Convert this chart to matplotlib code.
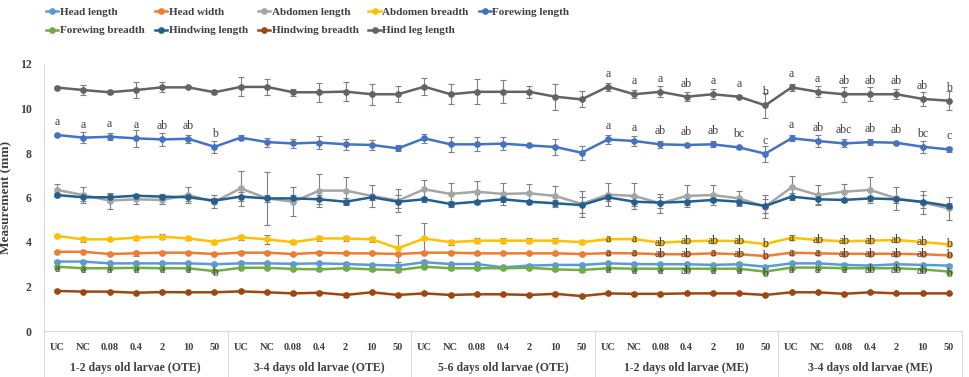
import numpy
import matplotlib
matplotlib.use("Agg")
import matplotlib.pyplot as plt
import matplotlib.transforms as mtransforms

plt.rcParams['font.family'] = ['Liberation Serif', 'DejaVu Serif']

# === data (mm), 5 groups x 7 treatments
treatments = ["UC", "NC", "0.08", "0.4", "2", "10", "50"]
groups = ["1-2 days old larvae (OTE)", "3-4 days old larvae (OTE)", "5-6 days old larvae (OTE)",
          "1-2 days old larvae (ME)", "3-4 days old larvae (ME)"]

head_length = [3.12, 3.12, 3.04, 3.04, 3.04, 3.04, 3.00, 3.04, 3.04, 3.02, 3.04, 3.01, 2.97, 2.94, 3.09, 3.01, 3.01, 2.86,
               2.94, 2.97, 2.97, 3.04, 3.01, 3.00, 3.00, 2.97, 3.00, 2.89, 3.04, 3.04, 2.97, 2.94, 3.00, 2.97, 2.94]
head_width = [3.56, 3.56, 3.46, 3.49, 3.52, 3.52, 3.46, 3.52, 3.52, 3.46, 3.52, 3.49, 3.49, 3.46, 3.52, 3.52, 3.49, 3.49,
              3.49, 3.49, 3.46, 3.50, 3.49, 3.45, 3.45, 3.49, 3.45, 3.37, 3.52, 3.49, 3.47, 3.47, 3.47, 3.45, 3.40]
abdomen_length = [6.34, 6.11, 5.86, 5.92, 5.89, 6.11, 5.81, 6.41, 5.96, 5.81, 6.31, 6.31, 6.07, 5.86, 6.37, 6.16, 6.26, 6.16,
                  6.19, 6.07, 5.71, 6.13, 6.07, 5.74, 6.07, 6.11, 5.96, 5.59, 6.46, 6.11, 6.26, 6.34, 5.96, 5.77, 5.51]
abdomen_breadth = [4.27, 4.12, 4.12, 4.19, 4.24, 4.16, 4.01, 4.21, 4.12, 3.99, 4.16, 4.16, 4.12, 3.72, 4.16, 3.99, 4.06, 4.06,
                   4.06, 4.06, 3.99, 4.13, 4.13, 3.97, 4.03, 4.06, 4.04, 3.91, 4.19, 4.09, 4.03, 4.06, 4.09, 4.00, 3.89]
forewing_length = [8.81, 8.69, 8.73, 8.66, 8.61, 8.64, 8.28, 8.69, 8.49, 8.43, 8.47, 8.39, 8.36, 8.21, 8.66, 8.39, 8.39, 8.42,
                   8.34, 8.27, 8.01, 8.61, 8.54, 8.39, 8.36, 8.39, 8.25, 7.97, 8.66, 8.54, 8.43, 8.49, 8.46, 8.28, 8.16]
forewing_breadth = [2.89, 2.82, 2.82, 2.84, 2.82, 2.82, 2.69, 2.84, 2.84, 2.79, 2.77, 2.82, 2.77, 2.74, 2.89, 2.82, 2.82, 2.82,
                    2.84, 2.77, 2.74, 2.82, 2.80, 2.80, 2.80, 2.80, 2.80, 2.67, 2.85, 2.85, 2.82, 2.82, 2.82, 2.77, 2.67]
hindwing_length = [6.11, 6.01, 6.01, 6.08, 6.04, 6.01, 5.86, 6.04, 5.96, 5.96, 5.92, 5.81, 6.01, 5.81, 5.92, 5.71, 5.81, 5.92,
                   5.81, 5.74, 5.66, 6.01, 5.81, 5.77, 5.81, 5.89, 5.81, 5.62, 6.04, 5.92, 5.89, 5.96, 5.92, 5.81, 5.62]
hindwing_breadth = [1.80, 1.77, 1.77, 1.72, 1.75, 1.74, 1.74, 1.78, 1.74, 1.69, 1.72, 1.62, 1.74, 1.62, 1.69, 1.62, 1.65, 1.65,
                    1.62, 1.67, 1.57, 1.69, 1.67, 1.67, 1.69, 1.69, 1.69, 1.62, 1.74, 1.74, 1.67, 1.74, 1.69, 1.69, 1.69]
hind_leg_length = [10.94, 10.83, 10.73, 10.83, 10.95, 10.95, 10.73, 10.97, 10.97, 10.73, 10.73, 10.76, 10.64, 10.64, 10.98, 10.64, 10.75, 10.75,
                   10.75, 10.53, 10.41, 10.98, 10.64, 10.75, 10.53, 10.64, 10.53, 10.14, 10.95, 10.75, 10.64, 10.64, 10.64, 10.43, 10.35]

# === standard errors
err_head_length = [0.05, 0.06, 0.05, 0.06, 0.05, 0.05, 0.05, 0.1, 0.08, 0.06, 0.05, 0.08, 0.06, 0.08, 0.08, 0.06, 0.08, 0.05,
                   0.06, 0.06, 0.06, 0.05, 0.06, 0.05, 0.05, 0.05, 0.08, 0.06, 0.05, 0.05, 0.08, 0.06, 0.05, 0.06, 0.05]
err_head_width = [0.03, 0.03, 0.06, 0.1, 0.05, 0.05, 0.06, 0.06, 0.08, 0.06, 0.06, 0.05, 0.05, 0.06, 0.06, 0.06, 0.06, 0.05,
                  0.05, 0.06, 0.06, 0.04, 0.04, 0.04, 0.05, 0.04, 0.05, 0.04, 0.04, 0.06, 0.04, 0.04, 0.04, 0.05, 0.04]
err_abdomen_length = [0.27, 0.35, 0.36, 0.2, 0.2, 0.35, 0.3, 0.8, 1.2, 0.66, 0.75, 0.6, 0.5, 0.5, 0.42, 0.5, 0.5, 0.5,
                      0.4, 0.45, 0.6, 0.5, 0.6, 0.42, 0.5, 0.45, 0.35, 0.5, 0.5, 0.45, 0.35, 0.6, 0.5, 0.5, 0.5]
err_abdomen_breadth = [0.03, 0.12, 0.05, 0.1, 0.1, 0.05, 0.1, 0.12, 0.2, 0.1, 0.12, 0.1, 0.1, 0.6, 0.7, 0.12, 0.12, 0.12,
                       0.1, 0.1, 0.08, 0.05, 0.05, 0.05, 0.05, 0.05, 0.05, 0.05, 0.12, 0.05, 0.05, 0.12, 0.05, 0.05, 0.05]
err_forewing_length = [0.03, 0.24, 0.15, 0.37, 0.28, 0.19, 0.28, 0.11, 0.2, 0.22, 0.3, 0.26, 0.22, 0.13, 0.21, 0.34, 0.32, 0.28,
                       0.08, 0.34, 0.31, 0.21, 0.22, 0.16, 0.03, 0.13, 0.06, 0.36, 0.13, 0.25, 0.18, 0.15, 0.05, 0.28, 0.13]
err_forewing_breadth = [0.05, 0.05, 0.05, 0.05, 0.05, 0.05, 0.06, 0.05, 0.05, 0.06, 0.08, 0.08, 0.06, 0.08, 0.06, 0.08, 0.06, 0.05,
                        0.06, 0.06, 0.08, 0.05, 0.05, 0.05, 0.05, 0.05, 0.05, 0.05, 0.05, 0.05, 0.05, 0.06, 0.05, 0.06, 0.05]
err_hindwing_length = [0.08, 0.18, 0.15, 0.08, 0.1, 0.15, 0.1, 0.2, 0.15, 0.15, 0.2, 0.15, 0.1, 0.3, 0.1, 0.15, 0.1, 0.1,
                       0.1, 0.15, 0.35, 0.15, 0.2, 0.25, 0.15, 0.1, 0.15, 0.3, 0.15, 0.2, 0.1, 0.1, 0.15, 0.3, 0.15]
err_hindwing_breadth = [0.03, 0.03, 0.03, 0.03, 0.03, 0.03, 0.03, 0.03, 0.03, 0.05, 0.06, 0.07, 0.03, 0.05, 0.04, 0.05, 0.05, 0.05,
                        0.05, 0.04, 0.06, 0.03, 0.03, 0.03, 0.03, 0.03, 0.03, 0.03, 0.03, 0.03, 0.03, 0.03, 0.03, 0.03, 0.03]
err_hind_leg_length = [0.05, 0.22, 0.1, 0.35, 0.23, 0.05, 0.1, 0.43, 0.37, 0.15, 0.43, 0.41, 0.47, 0.35, 0.37, 0.46, 0.56, 0.52,
                       0.28, 0.59, 0.36, 0.18, 0.19, 0.25, 0.21, 0.22, 0.08, 0.56, 0.15, 0.25, 0.34, 0.32, 0.22, 0.31, 0.43]

# === significance letters ('' = none)
none7 = [""] * 7
let_forewing_length = ["a", "a", "a", "a", "ab", "ab", "b"] + none7 + none7 + \
    ["a", "a", "ab", "ab", "ab", "bc", "c"] + ["a", "ab", "abc", "ab", "ab", "bc", "c"]
let_hind_leg_length = none7 + none7 + none7 + \
    ["a", "a", "a", "ab", "a", "a", "b"] + ["a", "a", "ab", "ab", "ab", "ab", "b"]
let_abdomen_breadth = none7 + none7 + none7 + \
    ["a", "a", "ab", "ab", "ab", "ab", "b"] + ["a", "ab", "ab", "ab", "ab", "ab", "b"]
let_head_width = none7 + none7 + none7 + \
    ["a", "a", "ab", "ab", "a", "ab", "b"] + ["a", "a", "ab", "ab", "ab", "ab", "b"]
let_forewing_breadth = ["a", "a", "a", "a", "a", "a", "b"] + none7 + none7 + \
    ["a", "a", "a", "ab", "a", "a", "b"] + ["a", "a", "a", "ab", "ab", "ab", "b"]

series = [
    ("Head length", head_length, err_head_length, "#5B9BD5"),
    ("Head width", head_width, err_head_width, "#ED7D31"),
    ("Abdomen length", abdomen_length, err_abdomen_length, "#A5A5A5"),
    ("Abdomen breadth", abdomen_breadth, err_abdomen_breadth, "#FFC000"),
    ("Forewing length", forewing_length, err_forewing_length, "#4472C4"),
    ("Forewing breadth", forewing_breadth, err_forewing_breadth, "#70AD47"),
    ("Hindwing length", hindwing_length, err_hindwing_length, "#255E91"),
    ("Hindwing breadth", hindwing_breadth, err_hindwing_breadth, "#9E480E"),
    ("Hind leg length", hind_leg_length, err_hind_leg_length, "#636363"),
]

W, H = 969, 377
fig = plt.figure(figsize=(W/100, H/100), dpi=100)
ax = fig.add_axes([44/W, 1-331/H, (962-44)/W, 267/H])

x = numpy.arange(len(treatments)*len(groups))
handles = {}
for name, vals, err, col in series:
    ax.errorbar(x, vals, yerr=err, fmt='none', ecolor='#7F7F7F', elinewidth=0.8, capsize=2.2, capthick=0.8, zorder=2)
    h, = ax.plot(x, vals, color=col, lw=1.8, marker='o', ms=3.8, label=name, zorder=3)
    handles[name] = h

# letters: above the point for the upper series, on the point for the lower ones
def put_letters(vals, letters, dy):
    for xi, v, t in zip(x, vals, letters):
        if t:
            ax.annotate(t, (xi, v), xytext=(0, dy), textcoords='offset pixels', ha='center', va='center',
                        fontsize=8.5, color='#404040', zorder=4)

put_letters(forewing_length, let_forewing_length, 13)
put_letters(hind_leg_length, let_hind_leg_length, 13)
put_letters(abdomen_breadth, let_abdomen_breadth, 0)
put_letters(head_width, let_head_width, 0)
put_letters(forewing_breadth, let_forewing_breadth, -2)

# axes
ax.set_xlim(-0.5, len(x)-0.5)
ax.set_ylim(0, 12)
ax.set_yticks(range(0, 13, 2))
ax.set_yticklabels([str(v) for v in range(0, 13, 2)], fontsize=8.5, fontweight='bold', color='#404040')
ax.set_xticks(x)
ax.set_xticklabels(treatments*len(groups), fontsize=7.5, fontweight='bold', color='#404040')
ax.tick_params(axis='both', length=0)
ax.tick_params(axis='x', pad=9)
ax.tick_params(axis='y', pad=9)
for s in ['top', 'right']:
    ax.spines[s].set_visible(False)
for s in ['left', 'bottom']:
    ax.spines[s].set_color('#D9D9D9')
    ax.spines[s].set_linewidth(0.8)

ax.set_ylabel("Measurement (mm)", fontsize=9.5, fontweight='bold', color='#404040')
ax.yaxis.set_label_coords(-32/918, 0.5)

trans = mtransforms.blended_transform_factory(ax.transData, ax.transAxes)
for g, lab in enumerate(groups):
    ax.text(g*7+3, -37/267, lab, transform=trans, ha='center', va='center', fontsize=8.5,
            fontweight='bold', color='#404040')
for b in range(len(groups)+1):
    ax.plot([b*7-0.5, b*7-0.5], [0, -46/267], transform=trans, color='#D9D9D9', lw=0.8, clip_on=False)

# legend, row-major order like the original
order = ["Head length", "Forewing breadth", "Head width", "Hindwing length", "Abdomen length",
         "Hindwing breadth", "Abdomen breadth", "Hind leg length", "Forewing length"]
fig.legend([handles[n] for n in order], order, ncol=5, loc='upper left', bbox_to_anchor=(46/W, 1-7/H),
           frameon=False, borderpad=0, borderaxespad=0, handlelength=1.1, handletextpad=0.15,
           columnspacing=0.9, labelspacing=0.8, prop={'size': 8, 'weight': 'bold'}, labelcolor='#404040')

plt.savefig("out.png", dpi=100)
